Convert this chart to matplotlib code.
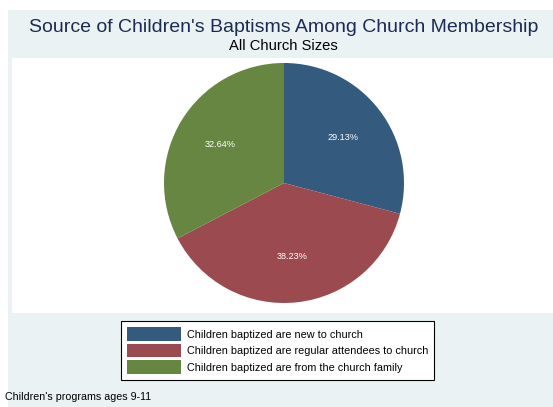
import matplotlib.pyplot as plt
from matplotlib.patches import Rectangle, Patch

# data
labels = ["Children baptized are new to church",
          "Children baptized are regular attendees to church",
          "Children baptized are from the church family"]
shares = [29.13, 38.23, 32.64]
colors = ["#345a7e", "#9b4a50", "#668641"]

title = "Source of Children's Baptisms Among Church Membership"
subtitle = "All Church Sizes"
note = "Children's programs ages 9-11"

plt.rcParams["font.family"] = ["Liberation Sans", "DejaVu Sans"]

W, H = 553, 407
fig = plt.figure(figsize=(W / 100, H / 100), dpi=100, facecolor="white")

# stata-like panels (pixel coords from top-left)
def px_rect(x0, y0, x1, y1, color):
    fig.patches.append(Rectangle((x0 / W, 1 - y1 / H), (x1 - x0) / W, (y1 - y0) / H,
                                 transform=fig.transFigure, facecolor=color,
                                 edgecolor="none", zorder=-2))

px_rect(8, 10, W, H, "#eaf2f3")
px_rect(12, 58, W, 313, "white")

# pie axes
cx, cy, r = 284, 183, 120
ax = fig.add_axes([(cx - r) / W, 1 - (cy + r) / H, 2 * r / W, 2 * r / H])
ax.set_zorder(2)
ax.patch.set_visible(False)
wedges, texts, autotexts = ax.pie(shares, colors=colors, startangle=90, counterclock=False,
                                  autopct=lambda p: f"{p:.2f}%", pctdistance=0.62,
                                  wedgeprops=dict(linewidth=0))
for t in autotexts:
    t.set_color("white")
    t.set_fontsize(6.6)
ax.set_xlim(-1, 1)
ax.set_ylim(-1, 1)
ax.set_aspect("equal")
ax.axis("off")

fig.text(284 / W, 1 - 27 / H, title, ha="center", va="center", fontsize=14, color="#1c2b54")
fig.text(283 / W, 1 - 46 / H, subtitle, ha="center", va="center", fontsize=10.6, color="black")
fig.text(5 / W, 1 - 397 / H, note, ha="left", va="center", fontsize=7.7, color="black")

handles = [Patch(facecolor=c, edgecolor="none") for c in colors]
leg = fig.legend(handles, labels, loc="center", bbox_to_anchor=(277.5 / W, 1 - 350.5 / H),
                 fontsize=7.85, frameon=True, fancybox=False, edgecolor="black",
                 framealpha=1, handlelength=5.0, handleheight=1.5, handletextpad=0.55,
                 labelspacing=0.3, borderpad=0.55)
leg.get_frame().set_linewidth(0.8)

fig.savefig("out.png", dpi=100, facecolor="white")
